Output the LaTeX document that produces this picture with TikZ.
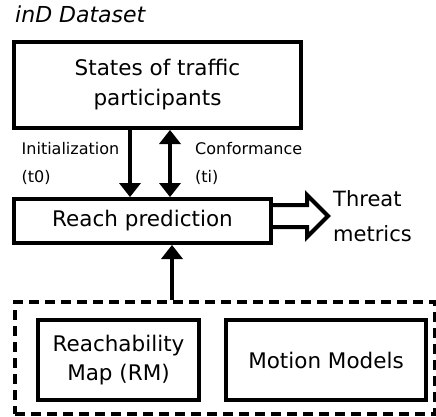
\documentclass[tikz,border=0pt]{standalone}
\usepackage{fontspec}
\setmainfont{DejaVu Sans}
\usetikzlibrary{arrows.meta}
\begin{document}
\begin{tikzpicture}[x=1pt,y=-1pt,
  box/.style={draw,line width=4pt,rectangle,inner sep=0pt,align=center,font=\fontsize{21.5}{30}\selectfont},
  grpbox/.style={draw,line width=4pt,rectangle,inner sep=0pt,dash pattern=on 10pt off 6pt},
  lbl/.style={inner sep=0pt,anchor=north west,align=left,font=\fontsize{16}{28}\selectfont},
  arr/.style={line width=4pt,-{Triangle[width=22pt,length=14pt,line width=0pt]}},
  darr/.style={line width=4pt,{Triangle[width=22pt,length=14pt,line width=0pt]}-{Triangle[width=22pt,length=14pt,line width=0pt]}},
  blockarr/.style={line width=4pt,line join=miter}]
\useasboundingbox (0,0) rectangle (436,417);
\fill[white] (0,0) rectangle (436,417);

\node[anchor=base west,inner sep=0pt,font=\fontsize{22}{26}\selectfont\itshape] (title) at (15,23) {inD Dataset};

\node[box,minimum width=287pt,minimum height=86pt] (states) at (157.5,85) {States of traffic\\participants};
\node[box,minimum width=257pt,minimum height=44pt] (reach) at (142.5,221) {Reach prediction};

\node[grpbox,minimum width=420pt,minimum height=112pt] (grp) at (225,358) {};
\node[box,minimum width=161pt,minimum height=80pt,font=\fontsize{21.5}{29}\selectfont] (rm) at (118.5,360) {Reachability\\Map (RM)};
\node[box,minimum width=200pt,minimum height=80pt] (mm) at (326,360) {Motion Models};

\node[lbl] (init) at (21.5,142.5) {Initialization\\(t0)};
\node[lbl] (conf) at (195,142.5) {Conformance\\(ti)};
\node[lbl,font=\fontsize{21}{35}\selectfont] (threat) at (333,190) {Threat\\metrics};

\coordinate (ia) at (130,0);
\coordinate (ca) at (170,0);
\coordinate (ba) at (172,0);
\draw[arr] (states.south -| ia) -- (reach.north -| ia);
\draw[darr] (reach.north -| ca) -- (states.south -| ca);
\draw[arr] (grp.north -| ba) -- (reach.south -| ba);

\draw[blockarr] ([yshift=16pt]reach.east) -- ++(34,0) -- ++(0,-10) -- ++(21,21) -- ++(-21,21) -- ++(0,-10) -- ++(-34,0);
\end{tikzpicture}
\end{document}
